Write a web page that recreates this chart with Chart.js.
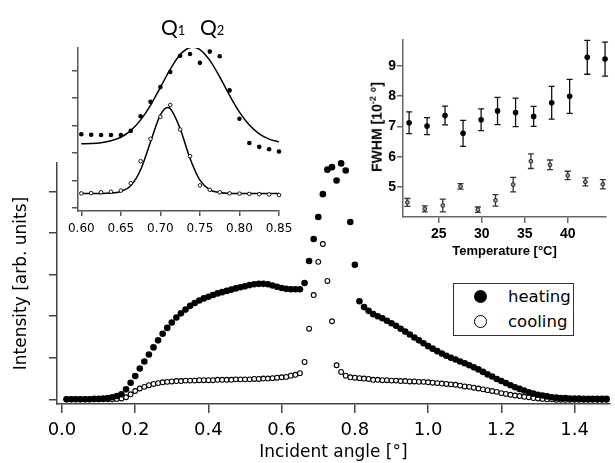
<!DOCTYPE html>
<html>
<head>
<meta charset="utf-8">
<script src="https://cdn.jsdelivr.net/npm/chart.js@4.4.0/dist/chart.umd.min.js"></script>
<style>
  body { margin: 0; background: #fff; }
  #wrap { position: relative; width: 615px; height: 463px; overflow: hidden; }
  canvas { position: absolute; left: 0; top: 0; }
  .q { position: absolute; top: 16px; font: 21px Lato; line-height: 21px; color: #000; }
  .q span { font-size: 13px; }
  #fwhmTitle {
    position: absolute; left: 376px; top: 127px; white-space: nowrap;
    transform: translate(-50%, -50%) rotate(-90deg);
    font: bold 14px 'Liberation Sans'; color: #000;
  }
  #fwhmTitle sup { font-size: 9px; }
  #legend {
    position: absolute; left: 453px; top: 283px; width: 119px; height: 51px;
    border: 1px solid #333; background: #fff; font: 16.5px 'DejaVu Sans'; color: #000;
  }
  #legend .row { position: absolute; left: 0; width: 100%; height: 25px; line-height: 25px; padding-left: 54px; box-sizing: border-box; }
  #legend .dot { position: absolute; left: 20px; top: 6px; width: 13px; height: 13px; border-radius: 50%; box-sizing: border-box; }
  #legend .full { background: #000; }
  #legend .open { background: #fff; border: 1px solid #000; }
</style>
</head>
<body>
<div id="wrap">
  <canvas id="main" width="615" height="463"></canvas>
  <canvas id="peak" width="615" height="463"></canvas>
  <canvas id="fwhm" width="615" height="463"></canvas>
  <div class="q" style="left:161px">Q<span>1</span></div>
  <div class="q" style="left:200px">Q<span>2</span></div>
  <div id="fwhmTitle">FWHM [10<sup>-2</sup> °]</div>
  <div id="legend">
    <div class="row" style="top:0"><span class="dot full"></span>heating</div>
    <div class="row" style="top:25px"><span class="dot open"></span>cooling</div>
  </div>
</div>
<script>
// incident angles [deg]
const angles = [
  0.0125, 0.025, 0.0375, 0.05, 0.0625, 0.075, 0.0875, 0.1,
  0.1125, 0.125, 0.1375, 0.15, 0.1625, 0.175, 0.1875, 0.2,
  0.2125, 0.225, 0.2375, 0.25, 0.2625, 0.275, 0.2875, 0.3,
  0.3125, 0.325, 0.3375, 0.35, 0.3625, 0.375, 0.3875, 0.4,
  0.4125, 0.425, 0.4375, 0.45, 0.4625, 0.475, 0.4875, 0.5,
  0.5125, 0.525, 0.5375, 0.55, 0.5625, 0.575, 0.5875, 0.6,
  0.6125, 0.625, 0.6375, 0.65, 0.6625, 0.675, 0.6875, 0.7,
  0.7125, 0.725, 0.7375, 0.75, 0.7625, 0.775, 0.7875, 0.8,
  0.8125, 0.825, 0.8375, 0.85, 0.8625, 0.875, 0.8875, 0.9,
  0.9125, 0.925, 0.9375, 0.95, 0.9625, 0.975, 0.9875, 1.0,
  1.0125, 1.025, 1.0375, 1.05, 1.0625, 1.075, 1.0875, 1.1,
  1.1125, 1.125, 1.1375, 1.15, 1.1625, 1.175, 1.1875, 1.2,
  1.2125, 1.225, 1.2375, 1.25, 1.2625, 1.275, 1.2875, 1.3,
  1.3125, 1.325, 1.3375, 1.35, 1.3625, 1.375, 1.3875, 1.4,
  1.4125, 1.425, 1.4375, 1.45, 1.4625, 1.475, 1.4875
];

const heating = [
  0.00, 0.00, 0.00, 0.00, 0.00, 0.00, 0.01, 0.01,
  0.02, 0.03, 0.05, 0.08, 0.12, 0.24, 0.40, 0.56,
  0.74, 0.91, 1.08, 1.25, 1.42, 1.58, 1.72, 1.85,
  1.97, 2.07, 2.16, 2.25, 2.32, 2.38, 2.43, 2.47,
  2.51, 2.55, 2.58, 2.61, 2.64, 2.67, 2.70, 2.72,
  2.75, 2.77, 2.78, 2.78, 2.77, 2.74, 2.71, 2.68,
  2.66, 2.65, 2.65, 2.65, 2.80, 3.33, 3.86, 4.39,
  4.94, 5.53, 5.59, 5.27, 5.68, 5.51, 4.27, 3.24,
  2.36, 2.22, 2.13, 2.05, 2.00, 1.95, 1.89, 1.83,
  1.77, 1.70, 1.63, 1.56, 1.49, 1.42, 1.35, 1.28,
  1.22, 1.16, 1.10, 1.05, 1.00, 0.96, 0.91, 0.87,
  0.82, 0.77, 0.72, 0.66, 0.60, 0.55, 0.49, 0.44,
  0.39, 0.34, 0.29, 0.25, 0.21, 0.17, 0.14, 0.11,
  0.09, 0.07, 0.05, 0.04, 0.03, 0.03, 0.02, 0.02,
  0.02, 0.01, 0.01, 0.01, 0.01, 0.01, 0.01
];

const cooling = [
  0.00, 0.00, 0.00, 0.00, 0.00, 0.00, 0.00, 0.00,
  0.00, 0.00, 0.00, 0.01, 0.02, 0.05, 0.12, 0.20,
  0.26, 0.30, 0.34, 0.37, 0.39, 0.41, 0.42, 0.43,
  0.44, 0.44, 0.45, 0.45, 0.45, 0.46, 0.46, 0.46,
  0.46, 0.47, 0.47, 0.47, 0.47, 0.48, 0.48, 0.48,
  0.48, 0.49, 0.49, 0.50, 0.50, 0.51, 0.52, 0.53,
  0.54, 0.57, 0.59, 0.63, 0.90, 1.70, 2.51, 3.31,
  3.74, 2.85, 1.88, 0.82, 0.66, 0.57, 0.53, 0.52,
  0.51, 0.50, 0.49, 0.47, 0.47, 0.46, 0.46, 0.45,
  0.45, 0.44, 0.44, 0.43, 0.43, 0.42, 0.42, 0.41,
  0.40, 0.39, 0.38, 0.37, 0.36, 0.35, 0.33, 0.31,
  0.30, 0.28, 0.26, 0.24, 0.22, 0.20, 0.18, 0.15,
  0.13, 0.11, 0.09, 0.08, 0.06, 0.05, 0.03, 0.02,
  0.01, 0.00, 0.00, -0.01, -0.01, -0.01, -0.01, -0.01,
  -0.01, -0.01, -0.01, -0.01, -0.01, -0.01, -0.01
];

const angleTicks = [0.0, 0.2, 0.4, 0.6, 0.8, 1.0, 1.2, 1.4];
const intensityTicks = [0, 1, 2, 3, 4, 5];

// Bragg peak region, with the gaussian fits
const peakTicks = [0.60, 0.65, 0.70, 0.75, 0.80, 0.85];
const heatFitX = [0.600, 0.6125, 0.625, 0.6375, 0.65, 0.6625, 0.675, 0.6875, 0.70, 0.7125, 0.725,
                  0.7375, 0.741, 0.75, 0.7625, 0.775, 0.7875, 0.80, 0.8125, 0.825, 0.8375, 0.85];
const heatFitY = [2.33, 2.34, 2.37, 2.44, 2.57, 2.81, 3.20, 3.73, 4.38, 5.04, 5.57,
                  5.83, 5.84, 5.75, 5.36, 4.76, 4.09, 3.48, 3.01, 2.69, 2.50, 2.40];
const coolFitX = [0.600, 0.6125, 0.625, 0.6375, 0.65, 0.6625, 0.675, 0.6875, 0.70, 0.709, 0.7125,
                  0.725, 0.7375, 0.75, 0.7625, 0.775, 0.7875, 0.80, 0.8125, 0.825, 0.8375, 0.85];
const coolFitY = [0.53, 0.53, 0.53, 0.54, 0.60, 0.81, 1.39, 2.40, 3.38, 3.65, 3.61,
                  2.88, 1.80, 1.01, 0.66, 0.56, 0.53, 0.53, 0.53, 0.53, 0.53, 0.53];

// peak width vs temperature
const tempTicks = [25, 30, 35, 40];
const fwhmTicks = [5, 6, 7, 8, 9];
const heatTemp = [21.55, 23.64, 25.73, 27.83, 29.93, 31.84, 33.94, 36.04, 38.14, 40.23, 42.28, 44.35];
const heatFwhm = [7.12, 7.01, 7.36, 6.77, 7.22, 7.51, 7.46, 7.33, 7.78, 7.99, 9.28, 9.22];
const heatErr  = [0.36, 0.28, 0.31, 0.43, 0.36, 0.45, 0.47, 0.33, 0.54, 0.56, 0.56, 0.56];
const coolTemp = [21.35, 23.37, 25.47, 27.53, 29.55, 31.60, 33.66, 35.72, 37.94, 40.00, 42.06, 44.09];
const coolFwhm = [4.49, 4.28, 4.39, 5.02, 4.25, 4.56, 5.08, 5.85, 5.73, 5.38, 5.17, 5.09];
const coolErr  = [0.13, 0.10, 0.21, 0.09, 0.09, 0.19, 0.24, 0.24, 0.16, 0.14, 0.13, 0.15];

Chart.defaults.font.family = "'DejaVu Sans'";
Chart.defaults.color = '#000';

const pts = (xs, ys) => xs.map((x, i) => ({x: x, y: ys[i]}));
const inPeak = p => p.x >= 0.599 && p.x <= 0.851;
const setTicks = list => scale => { scale.ticks = list.map(v => ({value: v})); };

const axisGrid = (len, color) => ({drawOnChartArea: false, tickLength: len, color: color, lineWidth: 1.5});
const axisBorder = color => ({display: true, color: color, width: 1.5});

const common = {
  responsive: false,
  animation: false,
  events: [],
  plugins: {legend: {display: false}, tooltip: {enabled: false}}
};

// main reflectivity curves
new Chart(document.getElementById('main'), {
  type: 'scatter',
  data: {
    datasets: [
      {label: 'heating', data: pts(angles, heating), pointRadius: 3.3, backgroundColor: '#000',
       borderWidth: 0, clip: false},
      {label: 'cooling', data: pts(angles, cooling), pointRadius: 2.4, backgroundColor: '#fff',
       borderColor: '#000', borderWidth: 1.1, clip: false}
    ]
  },
  options: Object.assign({}, common, {
    layout: {padding: {left: 0, right: 3, top: 163, bottom: 0}},
    scales: {
      x: {
        type: 'linear', min: -0.0136, max: 1.4966,
        afterBuildTicks: setTicks(angleTicks),
        afterFit: s => { s.height = 59; },
        grid: axisGrid(9, '#444'),
        border: axisBorder('#444'),
        ticks: {padding: 7, font: {size: 18}, autoSkip: false, maxRotation: 0,
                callback: v => v.toFixed(1)},
        title: {display: true, text: 'Incident angle [°]', font: {size: 17}, padding: {top: 0, bottom: 0}}
      },
      y: {
        min: -0.113, max: 5.69,
        afterBuildTicks: setTicks(intensityTicks),
        afterFit: s => { s.width = 57; },
        grid: axisGrid(8, '#444'),
        border: axisBorder('#444'),
        ticks: {display: false},
        title: {display: true, text: 'Intensity [arb. units]', font: {size: 17}, padding: {top: 11, bottom: 0}}
      }
    }
  })
});

// inset: zoom on the Q1/Q2 peaks
new Chart(document.getElementById('peak'), {
  type: 'scatter',
  data: {
    datasets: [
      {data: pts(angles, heating).filter(inPeak), pointRadius: 2.3, backgroundColor: '#000',
       borderWidth: 0, clip: false, order: 0},
      {data: pts(angles, cooling).filter(inPeak), pointRadius: 1.8, backgroundColor: '#fff',
       borderColor: '#000', borderWidth: 0.9, clip: false, order: 1},
      {data: pts(heatFitX, heatFitY), showLine: true, pointRadius: 0, borderColor: '#000',
       borderWidth: 1.5, cubicInterpolationMode: 'monotone', order: 2},
      {data: pts(coolFitX, coolFitY), showLine: true, pointRadius: 0, borderColor: '#000',
       borderWidth: 1.5, cubicInterpolationMode: 'monotone', order: 2}
    ]
  },
  options: Object.assign({}, common, {
    layout: {padding: {left: 0, right: 336, top: 48, bottom: 222}},
    scales: {
      x: {
        type: 'linear', min: 0.5958, max: 0.85,
        afterBuildTicks: setTicks(peakTicks),
        afterFit: s => { s.height = 30; },
        grid: axisGrid(5, '#555'),
        border: axisBorder('#555'),
        ticks: {padding: 5.5, font: {size: 12}, autoSkip: false, maxRotation: 0,
                callback: v => v.toFixed(2)}
      },
      y: {
        min: -0.11, max: 5.81,
        afterBuildTicks: setTicks(intensityTicks),
        afterFit: s => { s.width = 78; },
        grid: axisGrid(6, '#555'),
        border: axisBorder('#555'),
        ticks: {display: false}
      }
    }
  })
});

// vertical error bars drawn under the markers
const errorBars = {
  id: 'errorBars',
  beforeDatasetsDraw(chart) {
    const {ctx, scales: {x, y}} = chart;
    chart.data.datasets.forEach(ds => {
      if (!ds.errors) return;
      ctx.save();
      ctx.strokeStyle = ds.errorColor;
      ctx.lineWidth = 1.3;
      ds.data.forEach((p, j) => {
        const px = x.getPixelForValue(p.x);
        const top = y.getPixelForValue(p.y + ds.errors[j]);
        const bot = y.getPixelForValue(p.y - ds.errors[j]);
        ctx.beginPath();
        ctx.moveTo(px, top); ctx.lineTo(px, bot);
        ctx.moveTo(px - 3, top); ctx.lineTo(px + 3, top);
        ctx.moveTo(px - 3, bot); ctx.lineTo(px + 3, bot);
        ctx.stroke();
      });
      ctx.restore();
    });
  }
};

const boldFont = size => ({family: "'Liberation Sans'", weight: 'bold', size: size});

// inset: FWHM against temperature
new Chart(document.getElementById('fwhm'), {
  type: 'scatter',
  data: {
    datasets: [
      {data: pts(heatTemp, heatFwhm), errors: heatErr, errorColor: '#111', pointRadius: 2.8,
       backgroundColor: '#000', borderWidth: 0, clip: false},
      {data: pts(coolTemp, coolFwhm), errors: coolErr, errorColor: '#333', pointRadius: 1.9,
       backgroundColor: '#999', borderColor: '#222', borderWidth: 1, clip: false}
    ]
  },
  options: Object.assign({}, common, {
    layout: {padding: {left: 0, right: 9, top: 40, bottom: 204}},
    scales: {
      x: {
        type: 'linear', min: 20.84, max: 44.46,
        afterBuildTicks: setTicks(tempTicks),
        afterFit: s => { s.height = 42; },
        grid: axisGrid(6, '#666'),
        border: axisBorder('#666'),
        ticks: {padding: 3, font: boldFont(14), autoSkip: false, maxRotation: 0},
        title: {display: true, text: 'Temperature [°C]', font: boldFont(13), padding: {top: 0, bottom: 0}}
      },
      y: {
        min: 4.01, max: 9.85,
        afterBuildTicks: setTicks(fwhmTicks),
        afterFit: s => { s.width = 403; },
        grid: axisGrid(6, '#666'),
        border: axisBorder('#666'),
        ticks: {padding: 1, font: boldFont(14)}
      }
    }
  }),
  plugins: [errorBars]
});
</script>
</body>
</html>
